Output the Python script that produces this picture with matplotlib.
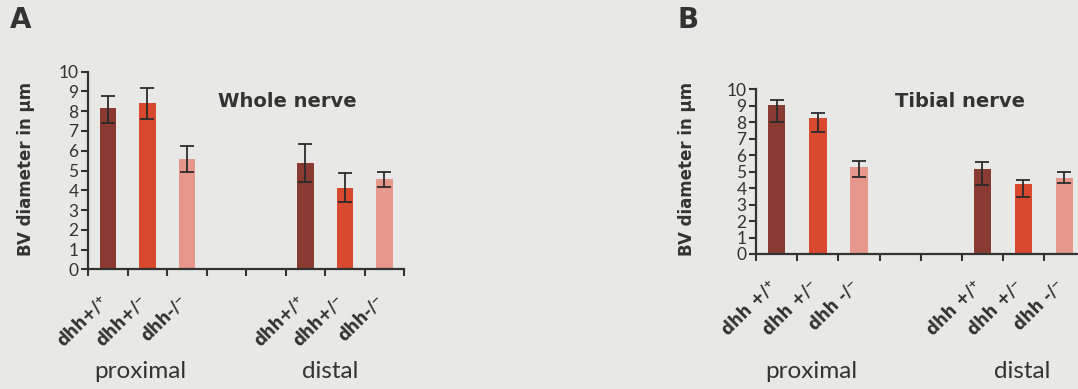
import numpy as np
import matplotlib.pyplot as plt

plt.rcParams['font.family'] = ['Lato', 'DejaVu Sans']
BOLD = ['DejaVu Sans']

# genotype labels under the bars
genotypes_a = ['dhh+/⁺', 'dhh+/⁻', 'dhh-/⁻']
genotypes_b = ['dhh +/⁺', 'dhh +/⁻', 'dhh -/⁻']
bar_colors = ['#8a3b31', '#d9492d', '#e6968a']

# A: whole nerve, mean BV diameter (um) and error bars
whole_prox = [8.14, 8.40, 5.56]
whole_prox_lo = [0.72, 0.80, 0.62]
whole_prox_hi = [0.65, 0.79, 0.70]
whole_dist = [5.38, 4.13, 4.55]
whole_dist_lo = [0.95, 0.74, 0.40]
whole_dist_hi = [0.94, 0.73, 0.39]

# B: tibial nerve
tib_prox = [9.07, 8.26, 5.27]
tib_prox_lo = [1.05, 0.86, 0.60]
tib_prox_hi = [0.30, 0.32, 0.35]
tib_dist = [5.17, 4.22, 4.62]
tib_dist_lo = [1.01, 0.77, 0.32]
tib_dist_hi = [0.39, 0.30, 0.35]

ink = '#333333'
bg = '#e8e8e6'

W, H = 1078, 389
fig = plt.figure(figsize=(W / 100, H / 100), dpi=100, facecolor=bg)


def panel(rect, labels, prox, prox_lo, prox_hi, dist, dist_lo, dist_hi):
    ax = fig.add_axes(rect)
    ax.set_facecolor('none')
    # 8 slots on the x axis: proximal in 0-2, two blank, distal in 5-7
    x = np.array([0, 1, 2, 5, 6, 7]) + 0.5
    vals = prox + dist
    lo = prox_lo + dist_lo
    hi = prox_hi + dist_hi
    ax.bar(x, vals, width=0.42, color=bar_colors * 2, zorder=2)
    ax.errorbar(x, vals, yerr=[lo, hi], fmt='none', ecolor='#2b2b2b',
                elinewidth=1.3, capsize=5, capthick=1.3, zorder=3)
    ax.set_xlim(0, 8)
    ax.set_ylim(0, 10)
    ax.set_yticks(range(11))
    ax.set_xticks(range(9))
    ax.set_xticklabels([])
    for s in ['top', 'right']:
        ax.spines[s].set_visible(False)
    for s in ['left', 'bottom']:
        ax.spines[s].set_linewidth(1.6)
        ax.spines[s].set_color(ink)
    ax.tick_params(axis='both', direction='out', length=5, width=1.5,
                   color=ink, labelcolor=ink)
    ax.tick_params(axis='y', labelsize=12.5, pad=2)
    for xi, lab in zip(x, labels * 2):
        ax.annotate(lab, xy=(xi, 0), xycoords=('data', 'axes fraction'),
                    xytext=(-7, -16), textcoords='offset points',
                    rotation=45, ha='right', va='top', rotation_mode='anchor',
                    fontsize=12, fontweight='bold', family=BOLD, color=ink)
    return ax


ax_a = panel([88.3 / W, 1 - 269.3 / H, (404 - 88.3) / W, (269.3 - 71.7) / H],
             genotypes_a, whole_prox, whole_prox_lo, whole_prox_hi,
             whole_dist, whole_dist_lo, whole_dist_hi)
ax_b = panel([756.3 / W, 1 - 254 / H, (1085 - 756.3) / W, (254 - 89.3) / H],
             genotypes_b, tib_prox, tib_prox_lo, tib_prox_hi,
             tib_dist, tib_dist_lo, tib_dist_hi)


def ftext(px, py, s, **kw):
    fig.text(px / W, 1 - py / H, s, ha='center', va='center', color=ink, **kw)


ftext(21, 20, 'A', fontsize=20, fontweight='heavy', family=BOLD)
ftext(688, 20, 'B', fontsize=20, fontweight='heavy', family=BOLD)

ftext(26, 169, 'BV diameter in μm', rotation=90, fontsize=12, fontweight='bold', family=BOLD)
ftext(687, 169, 'BV diameter in μm', rotation=90, fontsize=12, fontweight='bold', family=BOLD)

ftext(287, 102, 'Whole nerve', fontsize=14, fontweight='bold', family=BOLD)
ftext(960, 102, 'Tibial nerve', fontsize=14, fontweight='bold', family=BOLD)

ftext(140, 372, 'proximal', fontsize=17.5)
ftext(330, 372, 'distal', fontsize=17.5)
ftext(811, 372, 'proximal', fontsize=17.5)
ftext(1022, 372, 'distal', fontsize=17.5)

fig.savefig('out.png', dpi=100, facecolor=bg)
